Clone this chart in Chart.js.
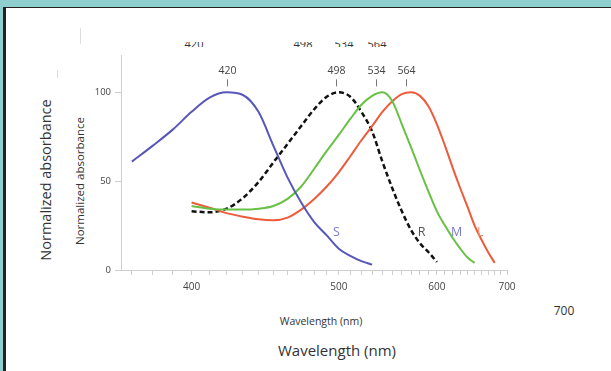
<!DOCTYPE html>
<html>
<head>
<meta charset="utf-8">
<script src="https://cdn.jsdelivr.net/npm/chart.js@4.4.1/dist/chart.umd.min.js"></script>
<style>
  html, body { margin: 0; padding: 0; background: #fff; }
  #wrap { position: relative; width: 611px; height: 371px; overflow: hidden; background: #fff; font-family: 'Open Sans', sans-serif; }
  .frame-top      { position: absolute; left: 0; top: 0; width: 611px; height: 7px; background: #8fcfcf; }
  .frame-topline  { position: absolute; left: 3px; top: 7px; width: 608px; height: 1px; background: #222; }
  .frame-left     { position: absolute; left: 0; top: 0; width: 3px; height: 371px; background: #8fcfcf; }
  .frame-leftline { position: absolute; left: 3px; top: 7px; width: 3px; height: 364px; background: #222; }
  canvas { position: absolute; left: 0; top: 0; }
  .txt { position: absolute; color: #333; white-space: nowrap; transform: translate(-50%, -50%); }
  .rot { transform: translate(-50%, -50%) rotate(-90deg); }
  .ghost-clip { position: absolute; left: 0; top: 42px; width: 611px; height: 5px; overflow: hidden; }
  .vline { position: absolute; width: 1px; background: #ddd; }
</style>
</head>
<body>
<div id="wrap">
  <div class="frame-top"></div>
  <div class="frame-left"></div>
  <div class="frame-topline"></div>
  <div class="frame-leftline"></div>

  <!-- leftover labels from the larger copy of the figure -->
  <div class="txt rot" style="left:45px; top:180px; font-size:14.5px;">Normalized absorbance</div>
  <div class="txt rot" style="left:79px; top:181px; font-size:11.5px;">Normalized absorbance</div>
  <div class="txt" style="left:321px; top:321px; font-size:10.5px;">Wavelength (nm)</div>
  <div class="txt" style="left:337px; top:350px; font-size:15px;">Wavelength (nm)</div>
  <div class="txt" style="left:564px; top:310px; font-size:12px;">700</div>
  <div class="ghost-clip">
    <div class="txt" style="left:194px; top:1px; font-size:11px;">420</div>
    <div class="txt" style="left:303px; top:1px; font-size:11px;">498</div>
    <div class="txt" style="left:344px; top:1px; font-size:11px;">534</div>
    <div class="txt" style="left:377px; top:1px; font-size:11px;">564</div>
  </div>
  <div class="vline" style="left:80px; top:28px; height:16px;"></div>
  <div class="vline" style="left:57px; top:70px; height:8px;"></div>

  <canvas id="absChart" width="611" height="371"></canvas>
</div>

<script>
// Cone / rod absorbance curves (nm -> % of peak)
const sNm  = [370, 380, 390, 400, 410, 420, 430, 440, 450, 460, 470, 480, 490, 500, 510, 520, 530];
const sAbs = [61, 70, 79, 89, 97, 100, 98.5, 89, 70, 52, 38, 27, 19.5, 12, 8, 5, 3];

const rNm  = [400, 410, 420, 430, 440, 450, 460, 470, 480, 490, 500, 510, 520, 530, 540, 550, 560, 570, 580, 590, 600];
const rAbs = [33, 32.5, 34.5, 40.5, 49.5, 60.5, 71, 81, 90.5, 97.5, 100, 97.5, 89, 78, 61, 46, 33, 22.5, 15, 10, 4.5];

const mNm  = [400, 410, 420, 430, 440, 450, 460, 470, 480, 490, 500, 510, 520, 530, 540, 550, 560, 570, 580, 590, 600, 610, 620, 630, 640, 650];
const mAbs = [36, 34.5, 34, 34, 34.5, 36, 40, 47, 57, 67, 76, 85, 93, 98, 100, 95, 82, 69, 56, 44, 33, 25, 18, 12, 7, 4];

const lNm  = [400, 410, 420, 430, 440, 450, 460, 470, 480, 490, 500, 510, 520, 530, 540, 550, 560, 570, 580, 590, 600, 610, 620, 630, 640, 650, 660, 670, 680];
const lAbs = [38, 35, 32, 30, 28.5, 28, 29.5, 34, 40, 47, 55, 64, 73, 81, 89, 95, 99, 100, 98, 92, 82, 70, 57.5, 46, 35.5, 25, 17, 10, 4];

// Peak markers and curve name tags
const peakNm      = [420, 498, 534, 564];
const curveNames  = ['S', 'R', 'M', 'L'];
const curveTagNm  = [498, 582, 625, 658];
const curveTagAbs = [21, 21, 21, 21];
const curveTagCol = ['#7b7bd0', '#555555', '#7a7acc', '#f08a6a'];

// Axis ticks
const xTickNm   = [370, 380, 390, 400, 410, 420, 430, 440, 450, 460, 470, 480, 490, 500, 510, 520, 530, 540, 550,
                   560, 570, 580, 590, 600, 610, 620, 630, 640, 650, 660, 670, 680, 690, 700];
const xLabelNm  = [400, 500, 600, 700];
const yTicks    = [0, 50, 100];
const X_MIN_NM  = 365;
const X_MAX_NM  = 700;

// x axis is linear in 1/wavelength (wavenumber), labelled in nm
const toK = (nm) => 1000 / nm;
const pts = (nm, v) => nm.map((n, i) => ({ x: toK(n), y: v[i] }));

const labelPlugin = {
  id: 'peakLabels',
  afterDatasetsDraw(chart) {
    const { ctx, scales: { x, y } } = chart;
    const top = y.getPixelForValue(100);
    ctx.save();
    ctx.textAlign = 'center';
    ctx.textBaseline = 'middle';
    ctx.font = '10.5px "Open Sans"';
    ctx.fillStyle = '#444';
    ctx.strokeStyle = '#777';
    ctx.lineWidth = 1;
    peakNm.forEach((nm) => {
      const px = Math.round(x.getPixelForValue(toK(nm))) + 0.5;
      ctx.fillText(String(nm), px, top - 21);
      ctx.beginPath();
      ctx.moveTo(px, top - 13);
      ctx.lineTo(px, top - 6);
      ctx.stroke();
    });
    ctx.font = '12.5px "Open Sans"';
    curveNames.forEach((name, i) => {
      ctx.fillStyle = curveTagCol[i];
      ctx.fillText(name, x.getPixelForValue(toK(curveTagNm[i])), y.getPixelForValue(curveTagAbs[i]));
    });
    ctx.restore();
  },
};

const lineStyle = { borderWidth: 2, pointRadius: 0, cubicInterpolationMode: 'monotone', fill: false };

new Chart(document.getElementById('absChart').getContext('2d'), {
  type: 'line',
  data: {
    datasets: [
      { label: 'S', data: pts(sNm, sAbs), borderColor: '#5757b9', ...lineStyle },
      { label: 'M', data: pts(mNm, mAbs), borderColor: '#68c044', ...lineStyle },
      { label: 'L', data: pts(lNm, lAbs), borderColor: '#ee5b3b', ...lineStyle },
      { label: 'R', data: pts(rNm, rAbs), borderColor: '#111111', borderDash: [5, 3], ...lineStyle, borderWidth: 2.5 },
    ],
  },
  options: {
    responsive: false,
    animation:  false,
    layout:     { padding: { left: 0, right: 104, top: 55, bottom: 0 } },
    plugins: {
      legend:  { display: false },
      tooltip: { enabled: false },
    },
    scales: {
      x: {
        type: 'linear',
        reverse: true,
        min: toK(X_MAX_NM),
        max: toK(X_MIN_NM),
        afterFit: (s) => { s.height = 101; },
        afterBuildTicks: (s) => { s.ticks = xTickNm.map((nm) => ({ value: toK(nm) })); },
        ticks: {
          autoSkip: false,
          maxRotation: 0,
          padding: 6,
          color: '#444',
          font: { family: 'Open Sans', size: 10 },
          callback: (v) => {
            const nm = Math.round(1000 / v);
            return xLabelNm.includes(nm) ? String(nm) : '';
          },
        },
        grid:   { drawOnChartArea: false, tickLength: 5, color: '#cfcfcf' },
        border: { color: '#cfcfcf' },
      },
      y: {
        min: 0,
        max: 121,
        afterFit: (s) => { s.width = 121; },
        afterBuildTicks: (s) => { s.ticks = yTicks.map((v) => ({ value: v })); },
        ticks: {
          padding: 4,
          color: '#444',
          font: { family: 'Open Sans', size: 9.5 },
        },
        grid:   { drawOnChartArea: false, tickLength: 6, color: '#cfcfcf' },
        border: { color: '#cfcfcf' },
      },
    },
  },
  plugins: [labelPlugin],
});
</script>
</body>
</html>
